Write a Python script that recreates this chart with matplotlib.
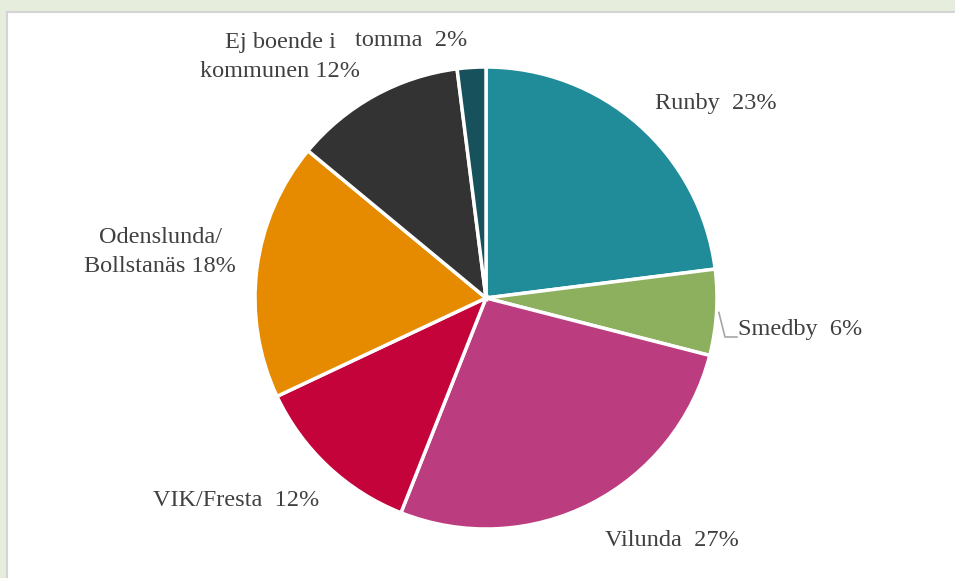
import numpy as np
import matplotlib
matplotlib.use('Agg')
import matplotlib.pyplot as plt
from matplotlib.patches import Rectangle

# data (percent), clockwise from 12 o'clock
areas = ['Runby', 'Smedby', 'Vilunda', 'VIK/Fresta', 'Odenslunda/\nBollstanäs',
         'Ej boende i\nkommunen', 'tomma']
shares = [23, 6, 27, 12, 18, 12, 2]
colors = ['#218c99', '#8db05e', '#bc3c80', '#c4033a', '#e68a00', '#333333', '#17515b']
label_text = ['Runby  23%', 'Smedby  6%', 'Vilunda  27%', 'VIK/Fresta  12%',
              'Odenslunda/\nBollstanäs 18%', 'Ej boende i\nkommunen 12%', 'tomma  2%']

W, H = 955, 578
cx, cy, R = 486, 298, 231  # pie centre / radius in pixels

fig = plt.figure(figsize=(W / 100, H / 100), dpi=100, facecolor='#e6eddc')
# white chart panel with thin grey edge
fig.patches.append(Rectangle((7 / W, -0.1), 1.1, 1.1 - 12 / H, transform=fig.transFigure,
                             facecolor='white', edgecolor='#d4d4d4', linewidth=1.5, zorder=-10))

ax = fig.add_axes([0, 0, 1, 1])
wedges, _ = ax.pie(shares, colors=colors, startangle=90, counterclock=False,
                   radius=1, wedgeprops=dict(edgecolor='white', linewidth=2.5))
# pie() resets the limits, so set them afterwards
ax.set_xlim(-cx / R, (W - cx) / R)
ax.set_ylim((cy - H) / R, cy / R)
ax.set_aspect('equal')
ax.axis('off')
ax.patch.set_alpha(0)

# label positions (pixels) - Excel "best fit" style placement
label_pos = [(716, 104), (800, 329), (672, 540), (236, 501), (160, 252), (280, 57), (411, 40)]
font = dict(family=['Liberation Serif', 'DejaVu Serif'], fontsize=17.5, color='#404040')
for txt, (px, py) in zip(label_text, label_pos):
    ax.text((px - cx) / R, (cy - py) / R, txt, ha='center', va='center',
            linespacing=1.45, **font)

# leader line for Smedby
w = wedges[1]
mid = np.deg2rad((w.theta1 + w.theta2) / 2)
x0, y0 = np.cos(mid), np.sin(mid)
ax.plot([x0 + 0.01, (725 - cx) / R, (737 - cx) / R],
        [y0, (cy - 337) / R, (cy - 337) / R], color='#a6a6a6', linewidth=1.2)

fig.savefig('out.png', dpi=100, facecolor=fig.get_facecolor())
